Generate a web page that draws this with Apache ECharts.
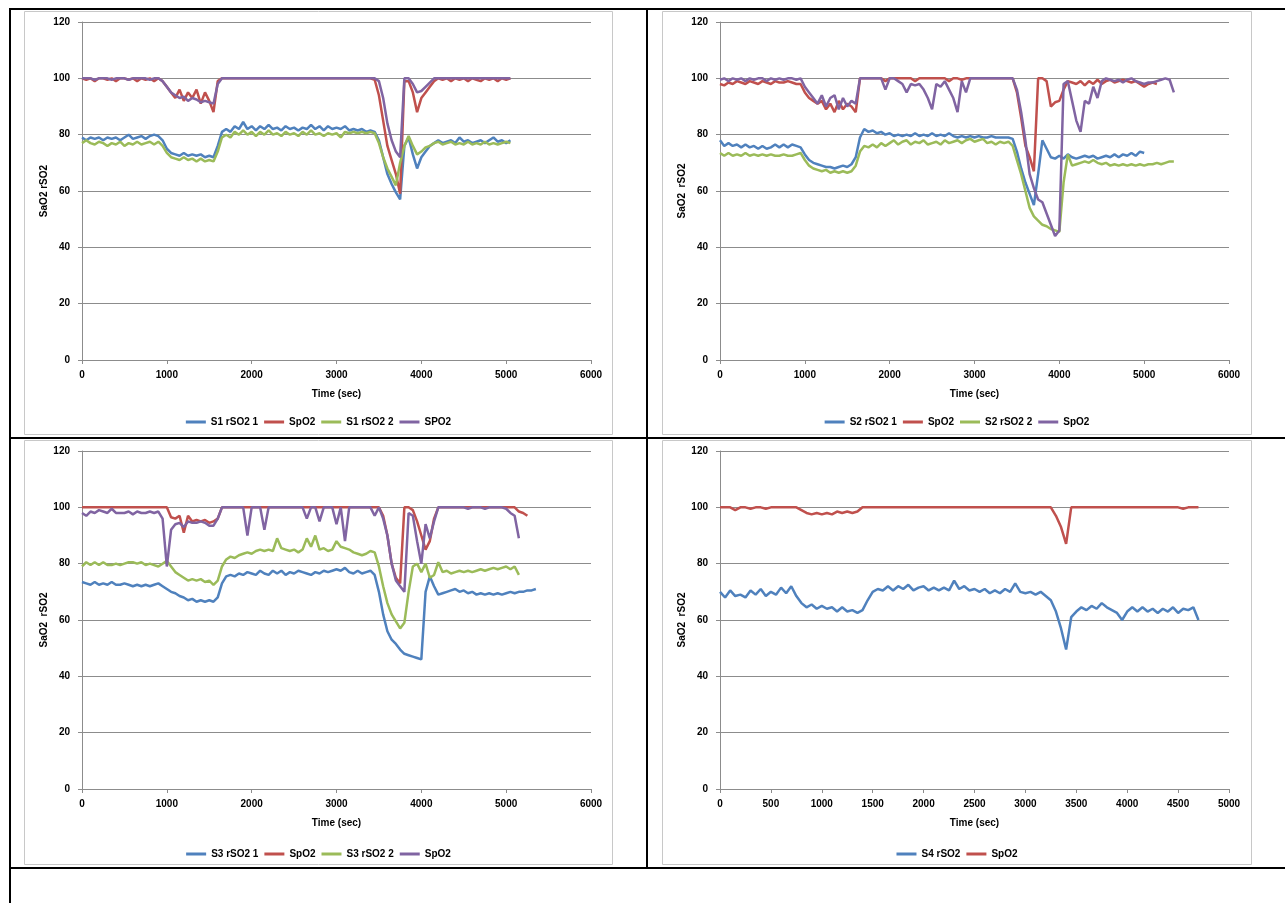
<!DOCTYPE html>
<html>
<head>
<meta charset="utf-8">
<script src="https://cdn.jsdelivr.net/npm/echarts@6/dist/echarts.min.js"></script>
<style>
  html, body { margin: 0; padding: 0; background: #fff; }
  body { width: 1285px; height: 903px; position: relative; overflow: hidden; }
  .rule { position: absolute; background: #000; }
  .panel { position: absolute; }
</style>
</head>
<body>
<!-- table rules -->
<div class="rule" style="left:9px;top:8px;width:1276px;height:2px"></div>
<div class="rule" style="left:9px;top:8px;width:2px;height:895px"></div>
<div class="rule" style="left:646px;top:8px;width:2px;height:861px"></div>
<div class="rule" style="left:9px;top:437px;width:1276px;height:2px"></div>
<div class="rule" style="left:9px;top:867px;width:1276px;height:2px"></div>

<div id="p1" class="panel" style="left:24px;top:11px;width:589px;height:424px"></div>
<div id="p2" class="panel" style="left:662px;top:11px;width:590px;height:424px"></div>
<div id="p3" class="panel" style="left:24px;top:440px;width:589px;height:425px"></div>
<div id="p4" class="panel" style="left:662px;top:440px;width:590px;height:425px"></div>

<script>
// sample times (sec), shared by every panel
const TIME = [
  0, 50, 100, 150, 200, 250, 300, 350, 400, 450,
  500, 550, 600, 650, 700, 750, 800, 850, 900, 950,
  1000, 1050, 1100, 1150, 1200, 1250, 1300, 1350, 1400, 1450,
  1500, 1550, 1600, 1650, 1700, 1750, 1800, 1850, 1900, 1950,
  2000, 2050, 2100, 2150, 2200, 2250, 2300, 2350, 2400, 2450,
  2500, 2550, 2600, 2650, 2700, 2750, 2800, 2850, 2900, 2950,
  3000, 3050, 3100, 3150, 3200, 3250, 3300, 3350, 3400, 3450,
  3500, 3550, 3600, 3650, 3700, 3750, 3800, 3850, 3900, 3950,
  4000, 4050, 4100, 4150, 4200, 4250, 4300, 4350, 4400, 4450,
  4500, 4550, 4600, 4650, 4700, 4750, 4800, 4850, 4900, 4950,
  5000, 5050, 5100, 5150, 5200, 5250, 5300, 5350, 5400
];

// ---- S1 ----
const s1Rso2a = [
  79, 78, 79, 78.5, 79, 78, 79, 78.5, 79, 78,
  79, 80, 78.5, 79, 79.5, 78.5, 79.5, 80, 79.5, 78,
  75, 73.5, 73, 72.5, 73.5, 72.5, 73, 72.5, 73, 72,
  72.5, 72, 76, 81, 82, 81, 83, 82, 84.5, 82,
  83, 81.5, 83, 82, 83.5, 82, 82.5, 81.5, 83, 82,
  82.5, 81.5, 82.5, 82, 83.5, 82, 83, 81.5, 83, 82,
  82.5, 82, 83, 81.5, 82, 81.5, 82, 81, 81.5, 81,
  78, 72, 66, 62.5, 59.5, 57, 76, 79, 73, 68,
  72, 74, 76, 77, 78, 77, 77.5, 78, 77, 79,
  77.5, 78, 77, 77.5, 78, 77, 78, 79, 77.5, 78,
  77, 78
];
const s1Spo2 = [
  100, 99.5, 100, 99, 100, 100, 99.5, 100, 99, 100,
  100, 99.5, 100, 99, 100, 99.5, 100, 99, 100, 99,
  97, 95, 93, 96, 92, 95, 93, 96, 91, 95,
  92, 88, 99, 100, 100, 100, 100, 100, 100, 100,
  100, 100, 100, 100, 100, 100, 100, 100, 100, 100,
  100, 100, 100, 100, 100, 100, 100, 100, 100, 100,
  100, 100, 100, 100, 100, 100, 100, 100, 100, 99.5,
  94, 85, 76, 71, 66, 59, 99, 99, 95, 88,
  93, 95, 97, 99, 100, 99.5, 100, 99, 100, 99.5,
  100, 99, 100, 99.5, 99, 100, 99.5, 100, 99, 100,
  99.5, 100
];
const s1Rso2b = [
  77, 78, 77, 76.5, 77.5, 77, 76, 77, 76.5, 77.5,
  76, 77, 76.5, 77.5, 76.5, 77, 77.5, 76.5, 77.5, 76,
  73.5, 72, 71.5, 71, 72, 71, 71.5, 70.5, 71.5, 70.5,
  71, 70.5, 74, 79, 80, 79, 81, 80, 81.5, 80,
  81, 79.5, 81, 80, 81.5, 80, 80.5, 79.5, 81, 80,
  80.5, 79.5, 81, 80, 81.5, 80, 80.5, 79.5, 80.5, 80,
  80.5, 79, 81, 80.5, 81, 80.5, 81, 80.5, 81, 80.5,
  77, 72, 68, 65, 62, 70, 76, 79.5, 76, 73,
  74, 75.5, 76, 77, 77.5, 76.5, 77, 77.5, 76.5, 77,
  76.5, 77.5, 76.5, 77, 76.5, 77.5, 76.5, 77, 76.5, 77,
  77.5, 77
];
const s1SPO2 = [
  100, 100, 100, 99.5, 100, 100, 100, 99.5, 100, 100,
  100, 99.5, 100, 100, 100, 100, 99.5, 100, 100, 99,
  97, 95, 94, 93, 93.5, 92, 93, 92.5, 91.5, 92,
  91.5, 91, 98, 100, 100, 100, 100, 100, 100, 100,
  100, 100, 100, 100, 100, 100, 100, 100, 100, 100,
  100, 100, 100, 100, 100, 100, 100, 100, 100, 100,
  100, 100, 100, 100, 100, 100, 100, 100, 100, 100,
  99, 93, 84, 78, 74, 72, 100, 100, 98, 95,
  95.5, 97, 98.5, 100, 100, 100, 100, 100, 100, 100,
  100, 100, 100, 100, 100, 100, 100, 100, 100, 100,
  100, 100
];

// ---- S2 ----
const s2Rso2a = [
  78, 76, 77, 76, 76.5, 75.5, 76.5, 75.5, 76, 75,
  76, 75, 75.5, 76.5, 75.5, 76.5, 75.5, 76.5, 76, 75.5,
  73, 71, 70, 69.5, 69, 68.5, 68.5, 68, 68.5, 69,
  68.5, 69.5, 72, 79, 82, 81, 81.5, 80.5, 81, 80,
  80.5, 79.5, 80, 79.5, 80, 79.5, 80.5, 79.5, 80, 79.5,
  80.5, 79.5, 80, 79.5, 80.5, 79.5, 79, 79.5, 79, 79.5,
  79, 79.5, 79, 79, 79.5, 79, 79, 79, 79, 78.5,
  74, 68, 63, 59, 55, 66, 78, 75, 72, 71.5,
  72.5, 71.5, 73, 72, 71.5, 72, 72.5, 72, 72.5, 71.5,
  72, 72.5, 72, 73, 72, 73, 72.5, 73.5, 72.5, 74,
  73.5
];
const s2Spo2 = [
  98, 97.5, 98.5, 98, 99, 98.5, 98, 99, 98.5, 98,
  99, 98.5, 98, 99, 98.5, 98.5, 99, 98.5, 98, 98,
  95, 93, 92, 91, 92, 89, 91, 88, 92, 89,
  91, 90, 88, 100, 100, 100, 100, 100, 100, 99,
  100, 100, 100, 100, 100, 100, 99, 100, 100, 100,
  100, 100, 100, 100, 99, 100, 100, 99.5, 100, 100,
  100, 100, 100, 100, 100, 100, 100, 100, 100, 100,
  95, 86, 76, 72, 67, 100, 100, 99, 90, 91.5,
  92, 96, 99, 98.5, 98, 99, 97.5, 99, 98, 99.5,
  98, 99, 99.5, 98.5, 99, 99.5, 99, 98.5, 99, 98,
  97, 98, 98.5, 98
];
const s2Rso2b = [
  73.5, 72.5, 73.5, 72.5, 73, 72.5, 73.5, 72.5, 73, 72.5,
  73, 72.5, 73, 72.5, 72.5, 73, 72.5, 72.5, 73, 73.5,
  71, 69, 68, 67.5, 67, 67.5, 66.5, 67, 66.5, 67,
  66.5, 67, 69, 74, 76, 75.5, 76.5, 75.5, 77, 76,
  77, 78, 76.5, 77.5, 78, 76.5, 77.5, 77, 78, 76.5,
  77, 77.5, 76.5, 78, 77, 77.5, 78, 77, 78, 78.5,
  77.5, 78, 78.5, 77, 77.5, 76.5, 77.5, 77, 77.5, 76,
  71, 66, 60, 54, 51, 49.5, 48, 47.5, 46.5, 46,
  45.5, 63, 73, 69, 69.5, 70, 70.5, 70, 71, 70,
  69.5, 70, 69, 69.5, 69, 69.5, 69, 69.5, 69, 69.5,
  69, 69.5, 69.5, 70, 69.5, 70, 70.5, 70.5
];
const s2Spo2b = [
  99.5, 100, 99, 100, 99.5, 100, 99, 100, 99.5, 100,
  100, 99, 100, 99.5, 100, 99.5, 100, 100, 99.5, 100,
  97, 95, 93, 91, 94, 90, 93, 94, 89, 93,
  90, 92, 91, 100, 100, 100, 100, 100, 100, 96,
  100, 100, 99, 98, 95, 98, 97.5, 98, 96, 93,
  89, 98, 97, 99, 96, 93, 88, 99, 95, 100,
  100, 100, 100, 100, 100, 100, 100, 100, 100, 100,
  96, 88, 78, 66, 61, 57, 56, 52, 48, 44,
  46, 98, 99, 92, 85, 81, 92, 91, 97, 93,
  99, 100, 99.5, 99, 99.5, 98.5, 99.5, 100, 99, 98.5,
  98, 98.5, 98.5, 99, 99.5, 100, 99.5, 95
];

// ---- S3 ----
const s3Rso2a = [
  73.5, 73, 72.5, 73.5, 72.5, 73, 72.5, 73.5, 72.5, 72.5,
  73, 72.5, 72, 72.5, 72, 72.5, 72, 72.5, 73, 72,
  71, 70, 69.5, 68.5, 68, 67, 67.5, 66.5, 67, 66.5,
  67, 66.5, 68, 73, 75.5, 76, 75.5, 76.5, 76, 77,
  76.5, 76, 77.5, 76.5, 76, 77.5, 76.5, 77.5, 76, 77,
  76.5, 77.5, 77, 76.5, 76, 77, 76.5, 77.5, 77, 77.5,
  78, 77.5, 78.5, 77, 76.5, 77.5, 76.5, 77, 77.5, 76,
  70, 62, 56, 53, 51.5, 49.5, 48, 47.5, 47, 46.5,
  46, 70, 75.5, 72, 69, 69.5, 70, 70.5, 71, 70,
  70.5, 69.5, 70, 69, 69.5, 69, 69.5, 69, 69.5, 69,
  69.5, 70, 69.5, 70, 70, 70.5, 70.5, 71
];
const s3Spo2 = [
  100, 100, 100, 100, 100, 100, 100, 100, 100, 100,
  100, 100, 100, 100, 100, 100, 100, 100, 100, 100,
  100, 96.5, 96, 97, 91, 97, 95, 95.5, 95, 95.5,
  94.5, 95, 96, 100, 100, 100, 100, 100, 100, 100,
  100, 100, 100, 100, 100, 100, 100, 100, 100, 100,
  100, 100, 100, 100, 100, 100, 100, 100, 100, 100,
  100, 100, 100, 100, 100, 100, 100, 100, 100, 100,
  100, 97, 90, 80, 75, 73, 100, 100, 99, 95,
  90, 85, 88, 96, 100, 100, 100, 100, 100, 100,
  100, 100, 100, 100, 100, 100, 100, 100, 100, 100,
  100, 100, 100, 98.5, 98, 97
];
const s3Rso2b = [
  79, 80.5, 79.5, 80.5, 79.5, 80.5, 79.5, 79.5, 80, 79.5,
  80, 80.5, 80.5, 80, 80.5, 79.5, 80, 79.5, 79, 80,
  81, 79, 77, 76, 75, 74, 74.5, 74, 74.5, 73.5,
  74, 72.5, 74, 79, 81.5, 82.5, 82, 83, 83.5, 84,
  83.5, 84.5, 85, 84.5, 85, 84.5, 89, 85.5, 85, 84.5,
  85, 84, 85, 89, 86, 90, 85, 85.5, 84.5, 85,
  88, 86, 85.5, 85, 84, 83.5, 83, 83.5, 84.5, 84,
  79, 72, 66, 62, 59.5, 57, 59, 70, 79, 80,
  77, 80, 75, 76, 80.5, 77, 77.5, 76.5, 77, 77.5,
  77, 77.5, 77, 77.5, 78, 77.5, 78, 78.5, 78, 78.5,
  79, 78, 79, 76
];
const s3Spo2b = [
  98, 97, 98.5, 98, 99, 98.5, 98, 99.5, 98, 98,
  98, 98.5, 97.5, 98.5, 98, 98, 98.5, 98, 98.5, 96,
  79, 92, 94, 94.5, 93, 95, 94.5, 94.5, 95, 94.5,
  93.5, 93.5, 96, 100, 100, 100, 100, 100, 100, 90,
  100, 100, 100, 92, 100, 100, 100, 100, 100, 100,
  100, 100, 100, 96, 100, 100, 95, 100, 100, 100,
  94, 100, 88, 100, 100, 100, 100, 100, 100, 97,
  100, 96, 90, 80, 74, 72, 70, 98, 97, 88,
  80, 94, 89, 95, 100, 100, 100, 100, 100, 100,
  100, 99.5, 100, 100, 100, 99.5, 100, 100, 100, 100,
  99.5, 98, 97, 89
];

// ---- S4 ----
const s4Rso2 = [
  70, 68, 70.5, 68.5, 69, 68, 70.5, 69, 71, 68.5,
  70, 69, 71.5, 69.5, 72, 68.5, 66, 64.5, 65.5, 64,
  65, 64, 64.5, 63, 64.5, 63, 63.5, 62.5, 63.5, 67,
  70, 71, 70.5, 72, 70.5, 72, 71, 72.5, 70.5, 71.5,
  72, 70.5, 71.5, 70.5, 71.5, 70.5, 74, 71, 72, 70.5,
  71, 70, 71, 69.5, 70.5, 69.5, 71, 70, 73, 70,
  69.5, 70, 69, 70, 68.5, 67, 63, 57, 49.5, 61,
  63, 64.5, 63.5, 65, 64, 66, 64.5, 63.5, 62.5, 60,
  63, 64.5, 63, 64.5, 63, 64, 62.5, 64, 63, 64.5,
  62.5, 64, 63.5, 64.5, 60
];
const s4Spo2 = [
  100, 100, 100, 99, 100, 100, 99.5, 100, 100, 99.5,
  100, 100, 100, 100, 100, 100, 99, 98, 97.5, 98,
  97.5, 98, 97.5, 98.5, 98, 98.5, 98, 98.5, 100, 100,
  100, 100, 100, 100, 100, 100, 100, 100, 100, 100,
  100, 100, 100, 100, 100, 100, 100, 100, 100, 100,
  100, 100, 100, 100, 100, 100, 100, 100, 100, 100,
  100, 100, 100, 100, 100, 100, 97, 93, 87, 100,
  100, 100, 100, 100, 100, 100, 100, 100, 100, 100,
  100, 100, 100, 100, 100, 100, 100, 100, 100, 100,
  100, 99.5, 100, 100, 100
];

const BLUE = '#4F81BD', RED = '#C0504D', GREEN = '#9BBB59', PURPLE = '#8064A2';
const FONT = '"Liberation Sans", Arial, sans-serif';
const GREY = '#8c8c8c';

function points(vals) {
  return vals.map((v, i) => [TIME[i], v]);
}

// names ending in #n are only to keep legend entries apart
function drawPanel(id, opts) {
  const el = document.getElementById(id);
  const chart = echarts.init(el, null, { renderer: 'canvas' });
  const w = el.clientWidth, h = el.clientHeight;
  const txt = { fontFamily: FONT, fontSize: 10, fontWeight: 'bold', color: '#000' };
  chart.setOption({
    animation: false,
    backgroundColor: '#fff',
    textStyle: { fontFamily: FONT },
    graphic: [{
      type: 'rect', silent: true,
      shape: { x: 0.5, y: 0.5, width: w - 1, height: h - 1 },
      style: { fill: 'none', stroke: '#c8c8c8', lineWidth: 1 }
    }],
    grid: { left: 58, top: 11, width: 509, height: 338, containLabel: false, outerBoundsMode: 'none' },
    legend: {
      left: 'center', top: opts.legendTop, icon: 'rect',
      itemWidth: 20, itemHeight: 3, itemGap: 6, selectedMode: false,
      textStyle: txt,
      formatter: n => n.replace(/#\d+$/, ''),
      data: opts.series.map(s => s.name)
    },
    xAxis: {
      type: 'value', min: 0, max: opts.xMax, interval: opts.xStep,
      name: 'Time (sec)', nameLocation: 'middle', nameGap: 29, nameTextStyle: txt,
      axisLine: { show: true, lineStyle: { color: GREY } },
      axisTick: { show: true, length: 4, lineStyle: { color: GREY } },
      axisLabel: Object.assign({ margin: 10, formatter: v => String(v) }, txt),
      splitLine: { show: false }
    },
    yAxis: {
      type: 'value', min: 0, max: 120, interval: 20,
      name: opts.yName, nameLocation: 'middle', nameGap: 33, nameMoveOverlap: false,
      nameTextStyle: txt,
      axisLine: { show: true, lineStyle: { color: GREY } },
      axisTick: { show: true, length: 4, lineStyle: { color: GREY } },
      axisLabel: Object.assign({ margin: 12 }, txt),
      splitLine: { show: true, lineStyle: { color: GREY, width: 1 } }
    },
    series: opts.series.map(s => ({
      name: s.name, type: 'line', data: points(s.values),
      symbol: 'none', showSymbol: false,
      lineStyle: { width: 2.5, color: s.color },
      itemStyle: { color: s.color },
      emphasis: { disabled: true }
    }))
  });
}

drawPanel('p1', {
  yName: 'SaO2 rSO2', xMax: 6000, xStep: 1000, legendTop: 401,
  series: [
    { name: 'S1 rSO2 1', values: s1Rso2a, color: BLUE },
    { name: 'SpO2', values: s1Spo2, color: RED },
    { name: 'S1 rSO2 2', values: s1Rso2b, color: GREEN },
    { name: 'SPO2', values: s1SPO2, color: PURPLE }
  ]
});
drawPanel('p2', {
  yName: 'SaO2 \u00a0rSO2', xMax: 6000, xStep: 1000, legendTop: 401,
  series: [
    { name: 'S2 rSO2 1', values: s2Rso2a, color: BLUE },
    { name: 'SpO2', values: s2Spo2, color: RED },
    { name: 'S2 rSO2 2', values: s2Rso2b, color: GREEN },
    { name: 'SpO2#2', values: s2Spo2b, color: PURPLE }
  ]
});
drawPanel('p3', {
  yName: 'SaO2 \u00a0rSO2', xMax: 6000, xStep: 1000, legendTop: 404,
  series: [
    { name: 'S3 rSO2 1', values: s3Rso2a, color: BLUE },
    { name: 'SpO2', values: s3Spo2, color: RED },
    { name: 'S3 rSO2 2', values: s3Rso2b, color: GREEN },
    { name: 'SpO2#2', values: s3Spo2b, color: PURPLE }
  ]
});
drawPanel('p4', {
  yName: 'SaO2 \u00a0rSO2', xMax: 5000, xStep: 500, legendTop: 404,
  series: [
    { name: 'S4 rSO2', values: s4Rso2, color: BLUE },
    { name: 'SpO2', values: s4Spo2, color: RED }
  ]
});
</script>
</body>
</html>
